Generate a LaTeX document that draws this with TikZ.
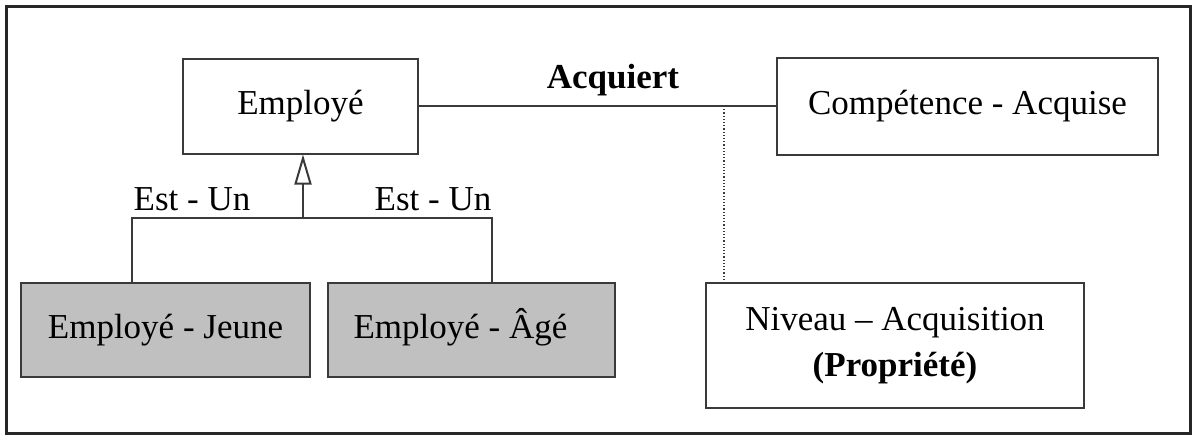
\documentclass[tikz,border=0pt]{standalone}
\usepackage{fontspec}
\setmainfont{Liberation Serif}
\usetikzlibrary{arrows.meta}
\definecolor{inkline}{HTML}{3A3A3A}
\definecolor{boxfill}{HTML}{C0C0C0}
\begin{document}
\begin{tikzpicture}[x=1pt,y=-1pt,
  every node/.style={font=\fontsize{35}{46}\selectfont},
  entity/.style={draw=inkline, line width=2pt, inner sep=0pt, align=center},
  subentity/.style={entity, fill=boxfill, text height=25pt, text depth=9pt},
  link/.style={draw=inkline, line width=2pt},
  tag/.style={inner sep=0pt}]
  \useasboundingbox (0,0) rectangle (1196,439);
  % outer frame
  \draw[draw=black!85, line width=3pt] (6,6) rectangle (1190,433);

  % classes
  \node[entity, minimum width=235pt, minimum height=95pt] (emp) at (300.5,106) {Employé};
  \node[entity, minimum width=381pt, minimum height=97pt] (comp) at (967.5,106) {Compétence - Acquise};
  \node[subentity, minimum width=289pt, minimum height=94pt] (jeune) at (165.5,330) {Employé - Jeune};
  \node[subentity, minimum width=287pt, minimum height=94pt] (age) at (471.5,330) {\hspace*{-22pt}Employé - Âgé};
  \node[entity, minimum width=378pt, minimum height=125pt] (niv) at (895,345.5)
    {Niveau – Acquisition\\\textbf{(Propriété)}};

  % association with its property class
  \draw[link] (emp.east) -- (comp.west);
  \node[tag, font=\fontsize{35}{42}\selectfont\bfseries] (acq) at (613,80) {Acquiert};
  \coordinate (j) at (724,106);
  \draw[draw=inkline, line width=1.2pt, dotted] (j) -- (j |- niv.north);

  % generalisation
  \coordinate (gen) at (303,218);
  \coordinate (bl) at (132,218);
  \coordinate (br) at (492,218);
  \draw[link, -{Triangle[open, width=17pt, length=30pt, line width=2pt]}] (gen) -- (gen |- emp.south);
  \draw[link] (jeune.north -| bl) -- (bl) -- (br) -- (age.north -| br);
  \node[tag] (isa1) at (192,199) {Est - Un};
  \node[tag] (isa2) at (433,199) {Est - Un};
\end{tikzpicture}
\end{document}
